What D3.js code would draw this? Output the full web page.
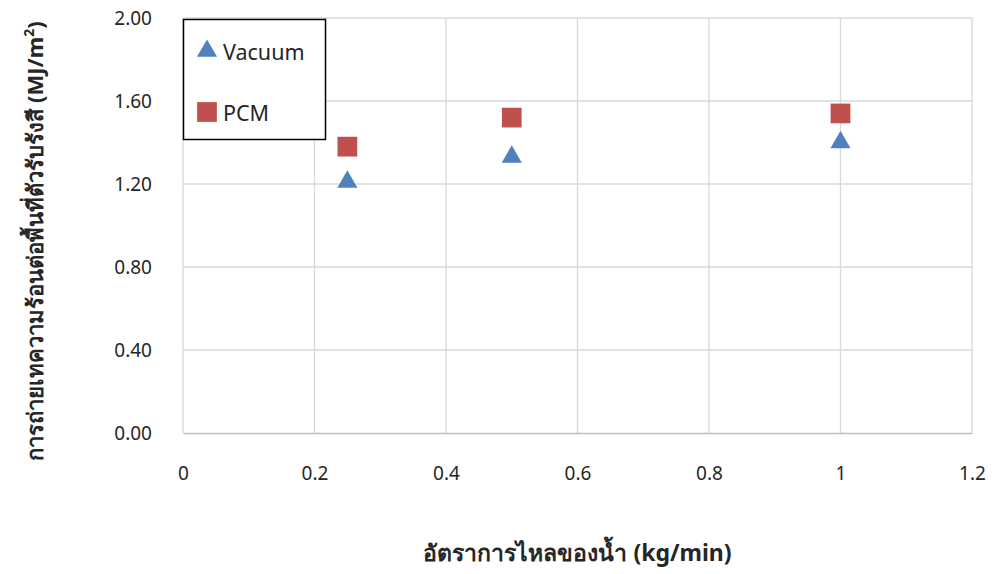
<!DOCTYPE html>
<html>
<head>
<meta charset="utf-8">
<script src="https://cdn.jsdelivr.net/npm/d3@7"></script>
<style>
  body { margin: 0; background: #fff; }
  text { font-family: "Noto Sans", "Open Sans", sans-serif; fill: #262626; }
</style>
</head>
<body>
<script>
var width = 996, height = 574;
var margin = {left: 183, right: 24, top: 18, bottom: 141};

// data
var flowRates = [0.25, 0.5, 1];
var vacuum = [1.22, 1.34, 1.41];
var pcm = [1.38, 1.52, 1.54];
var xTicks = [0, 0.2, 0.4, 0.6, 0.8, 1, 1.2];
var yTicks = [0, 0.4, 0.8, 1.2, 1.6, 2.0];

var x = d3.scaleLinear().domain([0, 1.2]).range([margin.left, width - margin.right]);
var y = d3.scaleLinear().domain([0, 2]).range([height - margin.bottom, margin.top]);

var svg = d3.select("body").append("svg")
    .attr("width", width)
    .attr("height", height);

// grid
svg.append("g").selectAll("line.h")
    .data(yTicks.slice(1))
    .enter().append("line")
    .attr("x1", x(0)).attr("x2", x(1.2))
    .attr("y1", function(d) { return y(d); })
    .attr("y2", function(d) { return y(d); })
    .attr("stroke", "#d9d9d9").attr("stroke-width", 1.3);

svg.append("g").selectAll("line.v")
    .data(xTicks)
    .enter().append("line")
    .attr("y1", y(0)).attr("y2", y(2))
    .attr("x1", function(d) { return x(d); })
    .attr("x2", function(d) { return x(d); })
    .attr("stroke", "#d9d9d9").attr("stroke-width", 1.3);

// axes
var xAxis = svg.append("g")
    .attr("transform", "translate(0," + y(0) + ")")
    .call(d3.axisBottom(x).tickValues(xTicks).tickSize(0).tickPadding(34)
        .tickFormat(function(d) { return d3.format("")(+d.toFixed(1)); }));
xAxis.select(".domain").attr("stroke", "#bfbfbf").attr("stroke-width", 1.5);
xAxis.selectAll("text").attr("font-size", 19).attr("fill", "#262626");

var yAxis = svg.append("g")
    .attr("transform", "translate(" + x(0) + ",0)")
    .call(d3.axisLeft(y).tickValues(yTicks).tickSize(0).tickPadding(31).tickFormat(d3.format(".2f")));
yAxis.select(".domain").remove();
yAxis.selectAll("text").attr("font-size", 19).attr("fill", "#262626");

// points
var tri = d3.symbol().type(d3.symbolTriangle).size(175);
var sq = d3.symbol().type(d3.symbolSquare).size(390);

svg.append("g").selectAll("path")
    .data(flowRates)
    .enter().append("path")
    .attr("d", tri)
    .attr("transform", function(d, i) { return "translate(" + x(d) + "," + (y(vacuum[i]) + 2) + ")"; })
    .attr("fill", "#4F81BD");

svg.append("g").selectAll("path")
    .data(flowRates)
    .enter().append("path")
    .attr("d", sq)
    .attr("transform", function(d, i) { return "translate(" + x(d) + "," + y(pcm[i]) + ")"; })
    .attr("fill", "#C0504D");

// legend
var legend = svg.append("g");
legend.append("rect")
    .attr("x", 183.5).attr("y", 19.5).attr("width", 142).attr("height", 120)
    .attr("fill", "#fff").attr("stroke", "#000").attr("stroke-width", 1.5);
legend.append("path").attr("d", tri)
    .attr("transform", "translate(207,51)").attr("fill", "#4F81BD");
legend.append("text").attr("x", 223).attr("y", 60).attr("font-size", 21.5).text("Vacuum");
legend.append("path").attr("d", sq)
    .attr("transform", "translate(207,112)").attr("fill", "#C0504D");
legend.append("text").attr("x", 223).attr("y", 121).attr("font-size", 21.5).text("PCM");

// axis titles
svg.append("text")
    .attr("x", (x(0) + x(1.2)) / 2).attr("y", 561)
    .attr("text-anchor", "middle")
    .attr("font-size", 23).attr("font-weight", "bold")
    .text("อัตราการไหลของน้ำ (kg/min)");

var yt = svg.append("text")
    .attr("transform", "translate(43,241) rotate(-90)")
    .attr("text-anchor", "middle")
    .attr("font-size", 22).attr("font-weight", "bold");
yt.append("tspan").text("การถ่ายเทความร้อนต่อพื้นที่ตัวรับรังสี (MJ/m");
yt.append("tspan").attr("baseline-shift", "super").attr("font-size", 14).text("2");
yt.append("tspan").text(")");
</script>
</body>
</html>
